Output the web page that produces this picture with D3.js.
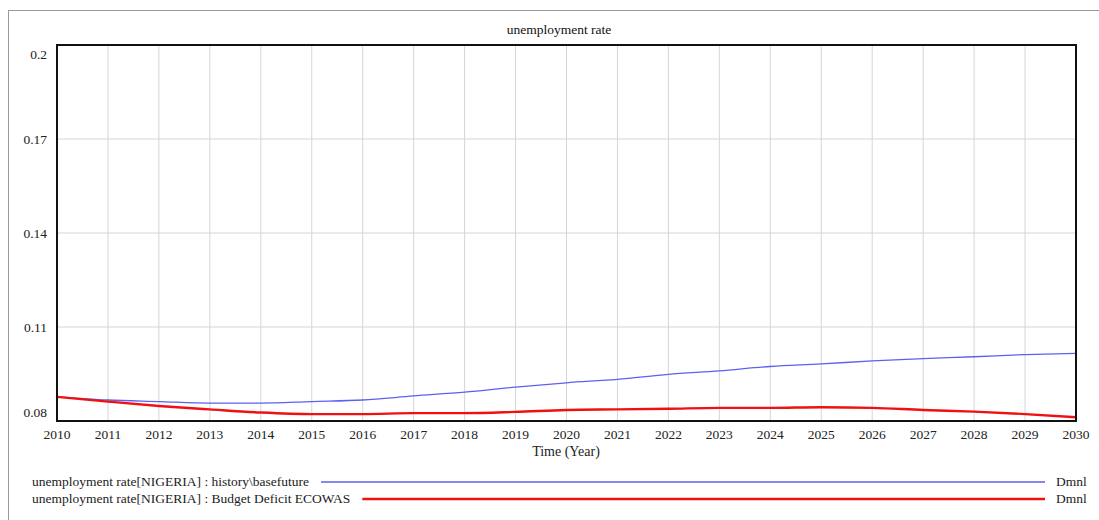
<!DOCTYPE html>
<html>
<head>
<meta charset="utf-8">
<script src="https://cdn.jsdelivr.net/npm/d3@7"></script>
<style>
  html, body { margin: 0; padding: 0; background: #fff; }
  svg { display: block; font-family: "Liberation Serif", "Times New Roman", serif; }
</style>
</head>
<body>
<svg id="chart" width="1099" height="520"></svg>
<script>
const title = "unemployment rate";
const xLabel = "Time (Year)";
const years = [2010,2011,2012,2013,2014,2015,2016,2017,2018,2019,2020,2021,2022,2023,2024,2025,2026,2027,2028,2029,2030];
const baseValues = [0.0877,0.0867,0.0862,0.0857,0.0857,0.0862,0.0867,0.0880,0.0892,0.0908,0.0922,0.0933,0.0949,0.0960,0.0974,0.0982,0.0992,0.0999,0.1005,0.1012,0.1016];
const deficitValues = [0.0877,0.0862,0.0848,0.0837,0.0827,0.0822,0.0822,0.0825,0.0825,0.0829,0.0835,0.0837,0.0839,0.0842,0.0842,0.0844,0.0842,0.0835,0.0830,0.0822,0.0812];
const yTicks = [0.08, 0.11, 0.14, 0.17, 0.2];
const seriesNames = ["unemployment rate[NIGERIA] : history\\basefuture", "unemployment rate[NIGERIA] : Budget Deficit ECOWAS"];
const units = ["Dmnl", "Dmnl"];
const seriesColors = ["#5f5ff0", "#f01010"];

const svg = d3.select("#chart");
const m = {left: 57, right: 1076, top: 45, bottom: 421};

// outer window frame
svg.append("rect").attr("x", 8.5).attr("y", 10.5).attr("width", 1200).attr("height", 600)
  .attr("fill", "none").attr("stroke", "#9a9a9a").attr("stroke-width", 1);

const x = d3.scaleLinear().domain([2010, 2030]).range([m.left, m.right]);
const y = d3.scaleLinear().domain([0.08, 0.2]).range([m.bottom, m.top]);

// grid
svg.append("g").selectAll("line").data(years.slice(1, -1)).join("line")
  .attr("x1", d => x(d)).attr("x2", d => x(d)).attr("y1", m.top).attr("y2", m.bottom)
  .attr("stroke", "#d6d6d6").attr("stroke-width", 1);
svg.append("g").selectAll("line").data(yTicks.slice(1, -1)).join("line")
  .attr("x1", m.left).attr("x2", m.right).attr("y1", d => y(d)).attr("y2", d => y(d))
  .attr("stroke", "#d6d6d6").attr("stroke-width", 1);

// title
svg.append("text").attr("x", 559).attr("y", 34).attr("text-anchor", "middle")
  .attr("font-size", "13.5px").attr("fill", "#111").text(title);

// y tick labels
svg.append("g").selectAll("text").data(yTicks).join("text")
  .attr("x", 47).attr("text-anchor", "end")
  .attr("y", (d, i) => y(d) + (i === 0 ? -4 : (i === yTicks.length - 1 ? 14 : 5)))
  .attr("font-size", "13.5px").attr("fill", "#222")
  .text(d => d3.format("")(+d.toFixed(2)));

// x tick labels
svg.append("g").selectAll("text").data(years).join("text")
  .attr("x", d => x(d)).attr("y", 439).attr("text-anchor", "middle")
  .attr("font-size", "13.5px").attr("fill", "#222").text(d => d);

svg.append("text").attr("x", 566).attr("y", 456).attr("text-anchor", "middle")
  .attr("font-size", "14px").attr("fill", "#222").text(xLabel);

// lines
const line = d3.line().x((d, i) => x(years[i])).y(d => y(d)).curve(d3.curveMonotoneX);
svg.append("path").datum(baseValues).attr("d", line).attr("fill", "none")
  .attr("stroke", seriesColors[0]).attr("stroke-width", 1.3);
svg.append("path").datum(deficitValues).attr("d", line).attr("fill", "none")
  .attr("stroke", seriesColors[1]).attr("stroke-width", 2.4);

// frame
svg.append("rect").attr("x", m.left).attr("y", m.top).attr("width", m.right - m.left).attr("height", m.bottom - m.top)
  .attr("fill", "none").attr("stroke", "#111").attr("stroke-width", 2);

// legend
const legY = [482, 499];
seriesNames.forEach((name, i) => {
  const t = svg.append("text").attr("x", 32).attr("y", legY[i] + 4).attr("font-size", "13.5px")
    .attr("fill", "#222").text(name);
  const w = t.node().getComputedTextLength();
  svg.append("line").attr("x1", 32 + w + 12).attr("x2", 1045).attr("y1", legY[i]).attr("y2", legY[i])
    .attr("stroke", seriesColors[i]).attr("stroke-width", i === 0 ? 1.3 : 2.4);
  svg.append("text").attr("x", 1056).attr("y", legY[i] + 4).attr("font-size", "13.5px")
    .attr("fill", "#222").text(units[i]);
});
</script>
</body>
</html>
